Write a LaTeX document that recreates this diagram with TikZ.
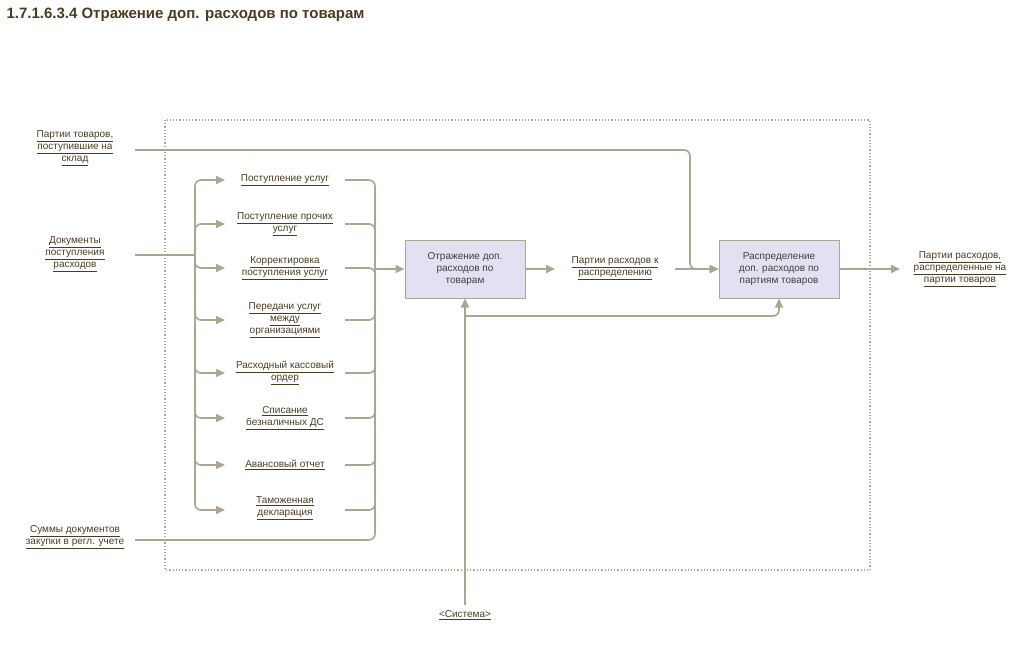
\documentclass[tikz,border=0pt]{standalone}
\usepackage{fontspec}
\setmainfont{Liberation Sans}
\usetikzlibrary{arrows.meta,calc}
\definecolor{wire}{HTML}{ABA692}
\definecolor{ink}{HTML}{4A3C22}
\definecolor{boxfill}{HTML}{E1E1F2}
\newcommand{\lnk}[1]{\underline{#1}}
\tikzset{
  lbl/.style={align=center,text=ink,font=\fontsize{10}{12}\selectfont,inner sep=1pt},
  func/.style={draw=wire,fill=boxfill,line width=1pt,minimum width=120pt,minimum height=58pt,
    align=center,font=\fontsize{10}{12}\selectfont,text=black!75},
  flow/.style={draw=wire,line width=1.6pt,rounded corners=6pt},
  arr/.style={flow,-{Triangle[length=9pt,width=8pt]}}
}
\begin{document}
\begin{tikzpicture}[x=1pt,y=-1pt]
\useasboundingbox (0,0) rectangle (1020,645);

\node[anchor=west,font=\bfseries\fontsize{15}{17}\selectfont,text=ink] (title) at (3,15) {1.7.1.6.3.4 Отражение доп. расходов по товарам};
\draw[wire,line width=1.2pt,dotted] (165,120) rectangle (870,570);

% functions
\node[func] (reflect) at (465,269) {Отражение доп.\\расходов по\\товарам};
\node[func] (distrib) at (779,269) {Распределение\\доп. расходов по\\партиям товаров};

% inputs
\node[lbl] (lots) at (75,148) {\lnk{Партии товаров,}\\\lnk{поступившие на}\\\lnk{склад}};
\node[lbl] (docs) at (75,254) {\lnk{Документы}\\\lnk{поступления}\\\lnk{расходов}};
\node[lbl] (sums) at (75,537) {\lnk{Суммы документов}\\\lnk{закупки в регл. учете}};

% documents
\node[lbl] (d1) at (285,180) {\lnk{Поступление услуг}};
\node[lbl] (d2) at (285,224) {\lnk{Поступление прочих}\\\lnk{услуг}};
\node[lbl] (d3) at (285,268) {\lnk{Корректировка}\\\lnk{поступления услуг}};
\node[lbl] (d4) at (285,320) {\lnk{Передачи услуг}\\\lnk{между}\\\lnk{организациями}};
\node[lbl] (d5) at (285,373) {\lnk{Расходный кассовый}\\\lnk{ордер}};
\node[lbl] (d6) at (285,418) {\lnk{Списание}\\\lnk{безналичных ДС}};
\node[lbl] (d7) at (285,465) {\lnk{Авансовый отчет}};
\node[lbl] (d8) at (285,508) {\lnk{Таможенная}\\\lnk{декларация}};

% outputs and mechanism
\node[lbl] (mid) at (615,268) {\lnk{Партии расходов к}\\\lnk{распределению}};
\node[lbl] (result) at (960,269) {\lnk{Партии расходов,}\\\lnk{распределенные на}\\\lnk{партии товаров}};
\node[lbl] (sys) at (465,615) {\lnk{<Система>}};

\coordinate (split) at (195,255);
\coordinate (merge) at (375,269);
\coordinate (sysend) at (465,605);

% fan out
\foreach \y in {180,224,268,320,373,418,465,510}
  \draw[arr] (split) -- (split |- 0,\y) -- (225,\y);
\draw[flow] (135,255) -- (split);
% fan in
\foreach \y in {180,224,268,320,373,418,465,510}
  \draw[flow] (345,\y) -- (merge |- 0,\y) -- (merge);
\draw[flow] (135,540) -- (375,540) -- (merge);
\draw[arr] (merge) -- (reflect.west);

\draw[arr] (reflect.east) -- (555,269);
\draw[arr] (675,269) -- (distrib.west);
\draw[arr] (135,150) -- (690,150) -- (690,269) -- (distrib.west);
\draw[arr] (distrib.east) -- (900,269);

\draw[arr] (sysend) -- (reflect.south);
\draw[arr] (465,316) -- (779,316) -- (distrib.south);
\end{tikzpicture}
\end{document}
